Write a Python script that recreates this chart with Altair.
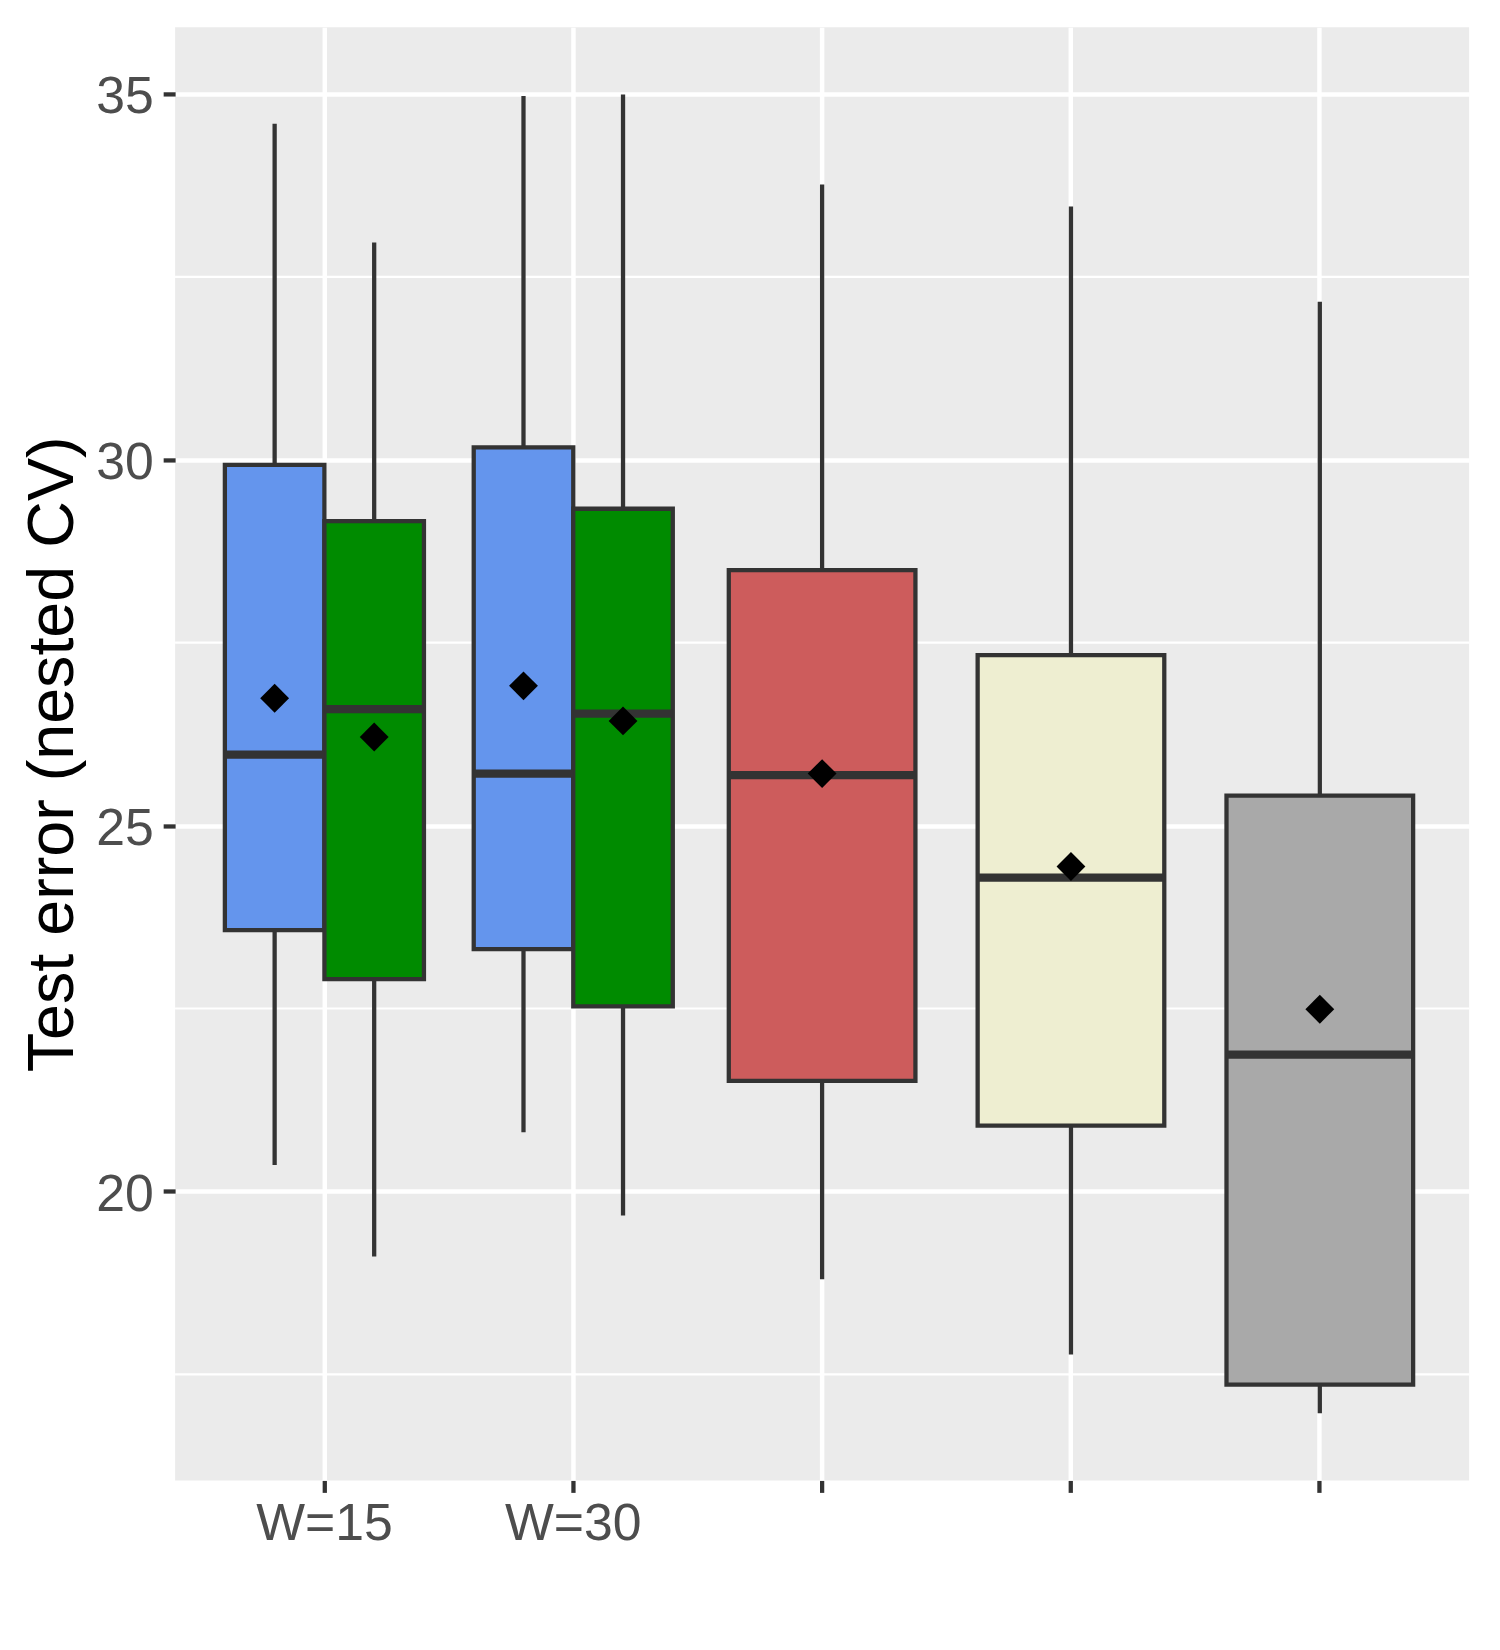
import altair as alt
import pandas as pd

# ---- data ----
categories = ["c1", "c2", "c3", "c4", "c5"]
tick_labels = ["W=15", "W=30", "", "", ""]

dodge_cat = ["c1", "c1", "c2", "c2"]
dodge_grp = ["A", "B", "A", "B"]
dodge_lower = [20.36, 19.11, 20.81, 19.67]
dodge_q1 = [23.57, 22.90, 23.31, 22.53]
dodge_median = [25.97, 26.59, 25.71, 26.53]
dodge_q3 = [29.93, 29.16, 30.17, 29.33]
dodge_upper = [34.59, 32.97, 34.97, 34.99]
dodge_mean = [26.74, 26.21, 26.91, 26.43]

single_cat = ["c3", "c4", "c5"]
single_lower = [18.80, 17.77, 16.97]
single_q1 = [21.51, 20.90, 17.36]
single_median = [25.69, 24.29, 21.87]
single_q3 = [28.49, 27.33, 25.41]
single_upper = [33.76, 33.46, 32.16]
single_mean = [25.71, 24.44, 22.49]

fill_keys = ["A", "B", "c3", "c4", "c5"]
fill_colors = ["#6495ED", "#008B00", "#CD5C5C", "#EEEED1", "#A9A9A9"]

major_breaks = [20, 25, 30, 35]
minor_breaks = [17.5, 22.5, 27.5, 32.5]
y_domain = [16.05, 35.91]
y_title = "Test error (nested CV)"

# ---- tables ----
dodged = pd.DataFrame(dict(cat=dodge_cat, key=dodge_grp, lower=dodge_lower, q1=dodge_q1,
                           median=dodge_median, q3=dodge_q3, upper=dodge_upper, mean=dodge_mean))
single = pd.DataFrame(dict(cat=single_cat, key=single_cat, lower=single_lower, q1=single_q1,
                           median=single_median, q3=single_q3, upper=single_upper, mean=single_mean))
minor = pd.DataFrame(dict(v=minor_breaks))

# ---- layout ----
W, H = 1301, 1461
step = W / 5.2
FONT = "Liberation Sans"
OUT = "#333333"

label_expr = " : ".join(f"datum.value == '{c}' ? '{l}'" for c, l in zip(categories, tick_labels)) + " : ''"

x_axis = alt.Axis(title=None, labelExpr=label_expr, labelAngle=0, grid=True, gridColor="white",
                  gridWidth=4.5, ticks=True, tickColor=OUT, tickWidth=4.3, tickSize=12,
                  labelFontSize=52, labelColor="#4D4D4D", labelFont=FONT, labelPadding=6,
                  domain=False)
x_scale = alt.Scale(domain=categories, paddingInner=0, paddingOuter=0.1)


def xe():
    return alt.X("cat:N", scale=x_scale, axis=x_axis)


y_scale = alt.Scale(domain=y_domain, nice=False, zero=False)
y_axis = alt.Axis(values=major_breaks, grid=True, gridColor="white", gridWidth=4.5, ticks=True,
                  tickColor=OUT, tickWidth=4.3, tickSize=12, labelFontSize=52,
                  labelColor="#4D4D4D", labelFont=FONT, labelPadding=10, labelOffset=3,
                  domain=False, titleFontSize=65, titleFont=FONT, titleColor="black",
                  titleFontWeight="normal", titlePadding=9)


def ye(field):
    return alt.Y(f"{field}:Q", scale=y_scale, axis=y_axis, title=y_title)


xoff = alt.XOffset("key:N", scale=alt.Scale(domain=["A", "B"], paddingInner=0, paddingOuter=0.25))
fill = alt.Fill("key:N", scale=alt.Scale(domain=fill_keys, range=fill_colors), legend=None)

minor_grid = alt.Chart(minor).mark_rule(color="white", strokeWidth=2.2).encode(y=ye("v"))

wh_d = alt.Chart(dodged).mark_rule(color=OUT, strokeWidth=4.3).encode(
    x=xe(), xOffset=xoff, y=ye("lower"), y2="upper:Q")
wh_s = alt.Chart(single).mark_rule(color=OUT, strokeWidth=4.3).encode(
    x=xe(), y=ye("lower"), y2="upper:Q")

box_d = alt.Chart(dodged).mark_bar(stroke=OUT, strokeWidth=4.3).encode(
    x=xe(), xOffset=xoff, y=ye("q1"), y2="q3:Q", fill=fill)
box_s = alt.Chart(single).mark_bar(stroke=OUT, strokeWidth=4.3,
                                   width=alt.RelativeBandSize(0.75)).encode(
    x=xe(), y=ye("q1"), y2="q3:Q", fill=fill)

med_d = alt.Chart(dodged).mark_tick(color=OUT, thickness=8.3, size=0.4 * step,
                                    orient="horizontal", opacity=1).encode(
    x=xe(), xOffset=xoff, y=ye("median"))
med_s = alt.Chart(single).mark_tick(color=OUT, thickness=8.3, size=0.75 * step,
                                    orient="horizontal", opacity=1).encode(
    x=xe(), y=ye("median"))

mean_d = alt.Chart(dodged).mark_point(shape="diamond", filled=True, color="black", size=841,
                                      opacity=1).encode(x=xe(), xOffset=xoff, y=ye("mean"))
mean_s = alt.Chart(single).mark_point(shape="diamond", filled=True, color="black", size=841,
                                      opacity=1).encode(x=xe(), y=ye("mean"))

chart = alt.layer(minor_grid, wh_d, wh_s, box_d, box_s, med_d, med_s, mean_d, mean_s).properties(
    width=W, height=H,
    autosize=alt.AutoSizeParams(type="none"),
    padding={"left": 168, "top": 15, "right": 23, "bottom": 150},
    background="white",
).configure_view(fill="#EBEBEB", stroke=None)

chart.save("out.html", embed_options={"renderer": "svg", "actions": False})
